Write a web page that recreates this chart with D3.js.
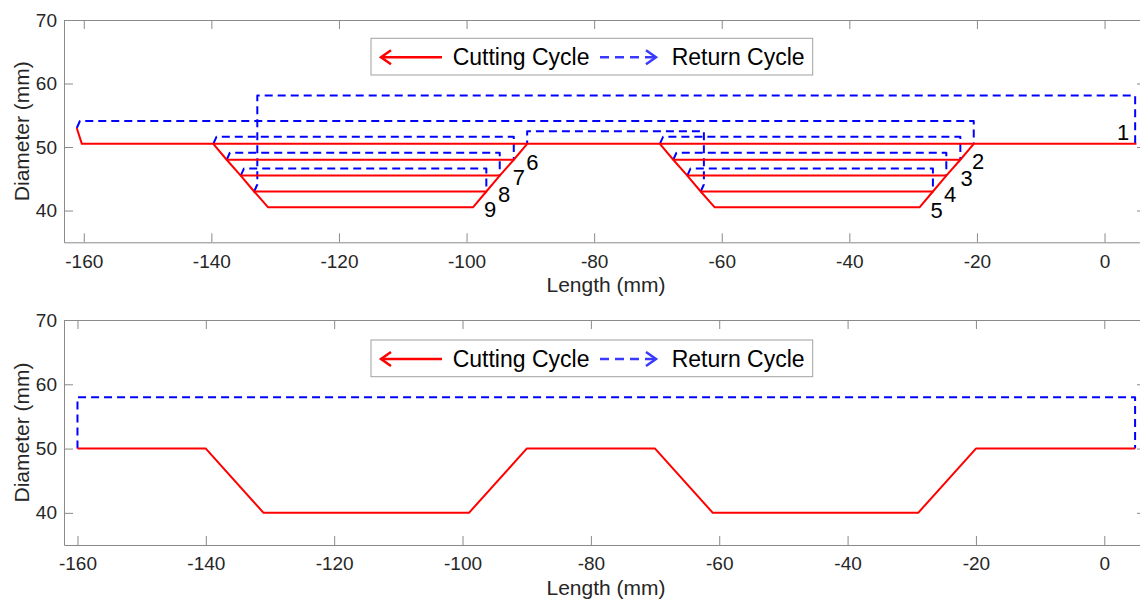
<!DOCTYPE html>
<html>
<head>
<meta charset="utf-8">
<script src="https://cdn.jsdelivr.net/npm/d3@7"></script>
<style>
  html, body { margin: 0; padding: 0; background: #fff; }
  svg { display: block; font-family: "Liberation Sans", Arial, Helvetica, sans-serif; }
</style>
</head>
<body>
<svg id="chart" width="1140" height="601"></svg>
<script>
// ---------------- DATA ----------------
const xTicks = [-160, -140, -120, -100, -80, -60, -40, -20, 0];
const yTicks = [40, 50, 60, 70];
const yDomain = [35, 70];
const legendLabels = ["Cutting Cycle", "Return Cycle"];
const xLabel = "Length (mm)";
const yLabel = "Diameter (mm)";

// Top panel: cutting passes (red, solid) as [length, diameter] points
const cut1 = [[5, 50.5], [-160.3, 50.5], [-161.1, 53.0]];
const cut2 = [[-20.5, 50.5], [-22.6, 48], [-67.6, 48], [-69.7, 50.5]];
const cut3 = [[-22.6, 48], [-24.8, 45.5], [-65.4, 45.5], [-67.6, 48]];
const cut4 = [[-24.8, 45.5], [-26.9, 43], [-63.3, 43], [-65.4, 45.5]];
const cut5 = [[-26.9, 43], [-29.0, 40.5], [-61.1, 40.5], [-63.3, 43]];
const cut6 = [[-90.5, 50.5], [-92.6, 48], [-137.6, 48], [-139.7, 50.5]];
const cut7 = [[-92.6, 48], [-94.8, 45.5], [-135.4, 45.5], [-137.6, 48]];
const cut8 = [[-94.8, 45.5], [-96.9, 43], [-133.3, 43], [-135.4, 45.5]];
const cut9 = [[-96.9, 43], [-99.0, 40.5], [-131.1, 40.5], [-133.3, 43]];

// Top panel: return moves (blue, dashed)
const ret1 = [[-161.1, 53.0], [-160.6, 54.1], [-20.5, 54.1], [-20.5, 50.5]];
const ret2 = [[-69.7, 50.5], [-69.2, 51.6], [-22.6, 51.6], [-22.6, 48]];
const ret3 = [[-67.6, 48], [-67.1, 49.1], [-24.8, 49.1], [-24.8, 45.5]];
const ret4 = [[-65.4, 45.5], [-64.9, 46.6], [-26.9, 46.6], [-26.9, 43]];
const ret5 = [[-63.3, 43], [-62.8, 44.1], [-62.8, 52.5], [-90.5, 52.5], [-90.5, 50.5]];
const ret6 = [[-139.7, 50.5], [-139.2, 51.6], [-92.6, 51.6], [-92.6, 48]];
const ret7 = [[-137.6, 48], [-137.1, 49.1], [-94.8, 49.1], [-94.8, 45.5]];
const ret8 = [[-135.4, 45.5], [-134.9, 46.6], [-96.9, 46.6], [-96.9, 43]];
const ret9 = [[-133.3, 43], [-132.8, 44.1], [-132.8, 58.1], [4.8, 58.1], [4.8, 50.5]];

// Pass number labels [text, length, diameter]
const passLabels = [
  ["1", 2.9, 52.3], ["2", -19.8, 47.7], ["3", -21.6, 45.1], ["4", -24.2, 42.45], ["5", -26.3, 40.0],
  ["6", -89.7, 47.6], ["7", -91.8, 45.2], ["8", -94.1, 42.45], ["9", -96.3, 40.1]
];

// Bottom panel: final profile and single return
const profile = [[-160, 50], [-140, 50], [-131, 40], [-99, 40], [-90, 50], [-70, 50], [-61, 40], [-29, 40], [-20, 50], [4.8, 50]];
const returnPath = [[-160, 50], [-160, 58], [4.8, 58], [4.8, 50]];

// ---------------- DRAWING ----------------
const svg = d3.select("#chart");
svg.append("rect").attr("width", 1140).attr("height", 601).attr("fill", "#fff");

const RED = "#ff0000", BLUE = "#0000ff", AX = "#8a8a8a", TXT = "#262626";

const panels = [
  { top: 20, bottom: 242.3, left: 64, right: 1146, xDomain: [-163.1, 6.5],
    cuts: [cut1, cut2, cut3, cut4, cut5, cut6, cut7, cut8, cut9],
    rets: [ret1, ret2, ret3, ret4, ret5, ret6, ret7, ret8, ret9],
    labels: passLabels, legendY: 38.3 },
  { top: 320, bottom: 545, left: 64, right: 1146, xDomain: [-162.1, 6.5],
    cuts: [profile], rets: [returnPath], labels: [], legendY: 340 }
];

panels.forEach((p, i) => {
  const x = d3.scaleLinear().domain(p.xDomain).range([p.left, p.right]);
  const y = d3.scaleLinear().domain(yDomain).range([p.bottom, p.top]);
  const g = svg.append("g");
  const clipId = "clip" + i;
  svg.append("clipPath").attr("id", clipId).append("rect")
    .attr("x", p.left).attr("y", p.top).attr("width", p.right - p.left).attr("height", p.bottom - p.top);

  // axes
  const styleAxis = sel => {
    sel.select(".domain").attr("stroke", AX).attr("stroke-width", 1);
    sel.selectAll(".tick line").attr("stroke", AX).attr("stroke-width", 1);
    sel.selectAll(".tick text").attr("fill", TXT).attr("font-size", 19)
       .attr("font-family", '"Liberation Sans", Arial, sans-serif');
  };
  g.append("g").attr("transform", `translate(0,${p.bottom})`)
    .call(d3.axisBottom(x).tickValues(xTicks).tickSizeInner(-9).tickSizeOuter(0).tickPadding(12).tickFormat(d3.format("d")))
    .call(styleAxis);
  g.append("g").attr("transform", `translate(0,${p.top})`)
    .call(d3.axisTop(x).tickValues(xTicks).tickSizeInner(-9).tickSizeOuter(0).tickFormat(""))
    .call(styleAxis);
  g.append("g").attr("transform", `translate(${p.left},0)`)
    .call(d3.axisLeft(y).tickValues(yTicks).tickSizeInner(-9).tickSizeOuter(0).tickPadding(7))
    .call(styleAxis);
  g.append("g").attr("transform", `translate(${p.right},0)`)
    .call(d3.axisRight(y).tickValues(yTicks).tickSizeInner(-9).tickSizeOuter(0).tickFormat(""))
    .call(styleAxis);
  g.selectAll(".tick text").filter(function(){ return this.textContent.startsWith("−"); })
    .text(function(){ return this.textContent.replace("−", "-"); });

  // axis labels
  g.append("text").attr("x", 606).attr("y", p.bottom + 49.5).attr("text-anchor", "middle")
    .attr("font-size", 21).attr("fill", TXT).text(xLabel);
  g.append("text").attr("transform", `translate(29,${(p.top + p.bottom) / 2}) rotate(-90)`)
    .attr("text-anchor", "middle").attr("font-size", 21).attr("fill", TXT).text(yLabel);

  // paths
  const line = d3.line().x(d => x(d[0])).y(d => y(d[1]));
  const plot = g.append("g").attr("clip-path", `url(#${clipId})`);
  plot.selectAll("path.ret").data(p.rets).join("path").attr("class", "ret")
    .attr("d", line).attr("fill", "none").attr("stroke", BLUE).attr("stroke-width", 2)
    .attr("stroke-dasharray", "8,5").attr("stroke-linejoin", "round");
  plot.selectAll("path.cut").data(p.cuts).join("path").attr("class", "cut")
    .attr("d", line).attr("fill", "none").attr("stroke", RED).attr("stroke-width", 2)
    .attr("stroke-linejoin", "round");

  // pass labels
  g.selectAll("text.pl").data(p.labels).join("text").attr("class", "pl")
    .attr("x", d => x(d[1])).attr("y", d => y(d[2])).attr("text-anchor", "middle")
    .attr("dominant-baseline", "central").attr("font-size", 22).attr("fill", "#000").text(d => d[0]);

  // legend
  const lg = g.append("g").attr("transform", `translate(371,${p.legendY})`);
  lg.append("rect").attr("width", 441.7).attr("height", 36.7).attr("fill", "#fff")
    .attr("stroke", "#a0a0a0").attr("stroke-width", 1);
  const cy = 19;
  lg.append("line").attr("x1", 10).attr("x2", 71).attr("y1", cy).attr("y2", cy)
    .attr("stroke", RED).attr("stroke-width", 2.5);
  lg.append("path").attr("d", `M20,${cy - 7} L10,${cy} L20,${cy + 7}`).attr("fill", "none")
    .attr("stroke", RED).attr("stroke-width", 2.5);
  lg.append("text").attr("x", 81.7).attr("y", cy + 8).attr("font-size", 23).attr("fill", "#000").text(legendLabels[0]);
  lg.append("line").attr("x1", 229).attr("x2", 284).attr("y1", cy).attr("y2", cy)
    .attr("stroke", "#3a3aff").attr("stroke-width", 2.5).attr("stroke-dasharray", "9,6");
  lg.append("path").attr("d", `M275,${cy - 7} L285,${cy} L275,${cy + 7}`).attr("fill", "none")
    .attr("stroke", "#3a3aff").attr("stroke-width", 2.5);
  lg.append("text").attr("x", 300.7).attr("y", cy + 8).attr("font-size", 23).attr("fill", "#000").text(legendLabels[1]);
});
</script>
</body>
</html>
